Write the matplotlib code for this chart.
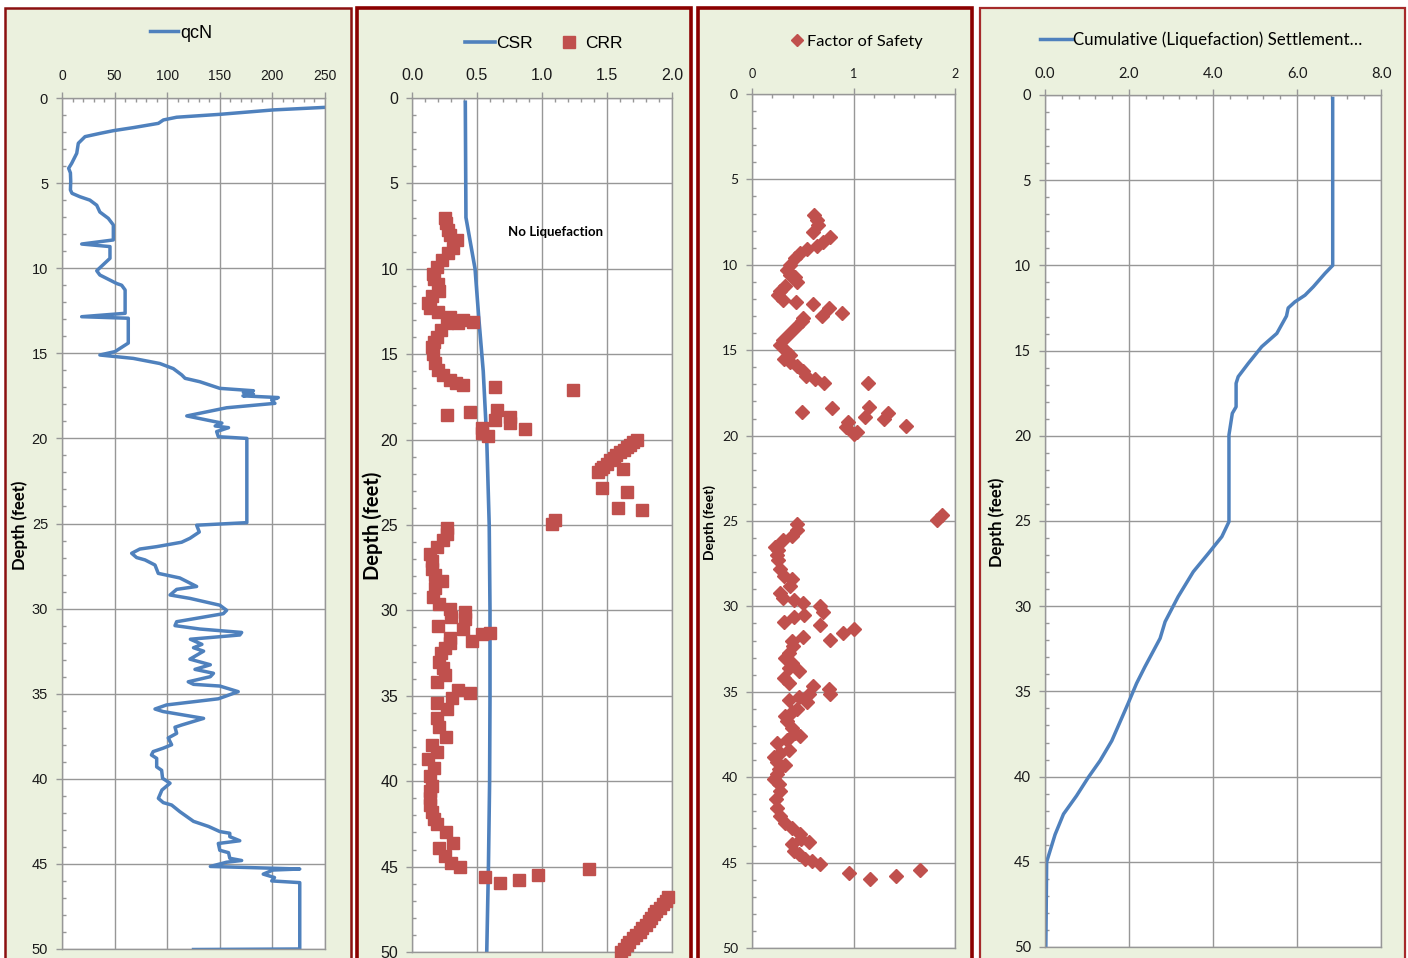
import matplotlib
matplotlib.use('Agg')
import matplotlib.pyplot as plt
from matplotlib.patches import Rectangle
from matplotlib.ticker import MultipleLocator, FormatStrFormatter
from matplotlib.lines import Line2D

# ---------------- data ----------------
qcn_depth = [0.55, 0.7, 0.96, 1.13, 1.29, 1.49, 1.74, 1.92, 2.08, 2.27,
             2.66, 3.25, 3.84, 4.13, 4.4, 4.9, 5.4, 5.6, 5.8, 6.0,
             6.3, 6.7, 7.07, 7.46, 8.34, 8.58, 8.73, 9.42, 10.15, 10.4,
             10.9, 11.0, 11.28, 12.65, 12.85, 12.94, 14.4, 14.9, 15.1, 15.3,
             15.6, 15.9, 16.27, 16.47, 16.67, 17.06, 17.2, 17.3, 17.4, 17.5,
             17.6, 17.75, 17.94, 18.2, 18.68, 19.0, 19.1, 19.27, 19.37, 19.6,
             19.9, 20.0, 24.95, 25.1, 25.5, 25.87, 26.1, 26.36, 26.5, 26.75,
             27.0, 27.14, 27.44, 27.93, 28.2, 28.5, 28.7, 28.87, 29.2, 29.4,
             29.8, 30.1, 30.3, 30.77, 31.0, 31.2, 31.4, 31.55, 31.8, 32.1,
             32.3, 32.5, 32.97, 33.3, 33.57, 33.8, 34.0, 34.3, 34.45, 34.55,
             34.88, 35.3, 35.66, 35.9, 36.05, 36.45, 36.84, 36.97, 37.33, 37.6,
             38.0, 38.2, 38.4, 38.6, 38.8, 39.3, 39.5, 39.97, 40.26, 40.66,
             41.15, 41.4, 41.54, 41.93, 42.5, 42.8, 43.1, 43.2, 43.4, 43.64,
             43.8, 44.2, 44.34, 44.67, 44.8, 44.9, 45.15, 45.3, 45.36, 45.6,
             45.8, 46.0, 46.1, 50.0, 50.03]
qcn_value = [250, 201, 150, 109, 96.4, 91.6, 67.8, 48.8, 36, 21.9,
             15.5, 14, 9.2, 6.3, 8, 8.3, 8, 9.5, 17, 26.5,
             33, 36, 44, 48.8, 48.8, 18.7, 45.6, 45.6, 33, 36,
             52, 56.7, 60, 60, 18.7, 63, 63, 50.4, 36, 67.8,
             93, 105.8, 113.8, 117, 131, 150, 182, 172.4, 182, 172,
             205.6, 199.3, 202.4, 156.5, 118.6, 144, 152, 145.6, 158.3, 147,
             148.6, 175.7, 175.7, 128, 130.5, 121.6, 113.7, 90, 74, 66.2,
             70.9, 78.9, 88.4, 91.5, 112, 121.6, 128, 109, 102.7, 121.6,
             150, 156.5, 153.3, 109, 107.4, 131, 170.8, 169, 122, 133,
             125, 134.6, 121.6, 141, 126.4, 144, 141, 120, 125, 150,
             167.5, 148.6, 99.4, 88.4, 96.2, 134.6, 113.7, 107.4, 109, 101,
             104.2, 96.2, 86.7, 85, 90, 90, 94.7, 95.6, 102.7, 95,
             91.6, 96.3, 104.2, 112, 125, 139.3, 150, 159.5, 159.5, 169,
             148.6, 150, 158.3, 159.5, 170.8, 156.5, 141, 226, 200.6, 191.3,
             202, 199.3, 226, 226, 125]

csr_depth = [0.25, 7.0, 10.0, 13.0, 16.0, 20.0, 25.0, 30.0, 35.0, 40.0, 45.0, 50.0]
csr_value = [0.41, 0.415, 0.485, 0.515, 0.548, 0.575, 0.594, 0.6, 0.6, 0.597, 0.588, 0.575]

crr_depth = [7.05, 7.3, 7.7, 8.0, 8.3, 8.8, 9.1, 9.5, 9.88, 10.3,
             10.6, 10.9, 11.3, 11.6, 12.0, 12.3, 12.5, 12.8, 13.0, 13.1,
             13.2, 13.2, 13.6, 14.0, 14.3, 14.6, 15.0, 15.5, 15.9, 16.2,
             16.5, 16.7, 16.8, 16.9, 17.1, 18.26, 18.36, 18.55, 18.65, 18.85,
             19.0, 19.34, 19.4, 19.63, 19.8,
             20.0, 20.15, 20.3, 20.45, 20.6, 20.75, 20.9, 21.05, 21.2, 21.4,
             21.6, 21.75, 21.9, 21.7, 22.85, 23.05, 24.0, 24.15, 24.7, 24.94,
             25.2, 25.5, 25.9, 26.3, 26.7, 27.1, 27.6, 27.9, 28.3, 28.7,
             29.2, 29.6, 29.9, 30.1, 30.4, 30.5, 30.9, 31.1, 31.35, 31.4,
             31.6, 31.8, 31.9, 32.2, 32.5, 33.0, 33.4, 33.8, 34.2, 34.66,
             34.86, 35.1, 35.4, 35.8, 36.3, 36.8, 37.4, 37.9, 38.3, 38.7,
             39.2, 39.7, 40.3, 40.6, 41.0, 41.4, 41.8, 42.2, 42.5, 43.0,
             43.6, 43.9, 44.4, 44.8, 45.0, 45.16, 45.49, 45.6, 45.78, 45.97,
             46.8, 47.0, 47.2, 47.4, 47.6, 47.8, 48.0, 48.2, 48.4, 48.6,
             48.8, 49.0, 49.2, 49.4, 49.6, 49.8, 50.0]
crr_value = [0.254, 0.26, 0.28, 0.29, 0.344, 0.318, 0.28, 0.228, 0.19, 0.164,
             0.17, 0.2, 0.21, 0.15, 0.126, 0.135, 0.2, 0.292, 0.395, 0.47,
             0.356, 0.267, 0.22, 0.19, 0.17, 0.15, 0.165, 0.18, 0.2, 0.24,
             0.29, 0.34, 0.395, 0.638, 1.24, 0.651, 0.446, 0.267, 0.754, 0.64,
             0.75, 0.536, 0.869, 0.536, 0.587,
             1.73, 1.70, 1.68, 1.65, 1.63, 1.60, 1.57, 1.55, 1.52, 1.50,
             1.47, 1.45, 1.43, 1.626, 1.459, 1.651, 1.587, 1.767, 1.1, 1.074,
             0.267, 0.267, 0.24, 0.19, 0.138, 0.15, 0.15, 0.18, 0.23, 0.18,
             0.165, 0.21, 0.292, 0.408, 0.3, 0.408, 0.2, 0.395, 0.6, 0.54,
             0.29, 0.459, 0.29, 0.25, 0.22, 0.21, 0.24, 0.254, 0.19, 0.356,
             0.446, 0.31, 0.19, 0.27, 0.19, 0.21, 0.26, 0.15, 0.19, 0.126,
             0.17, 0.138, 0.15, 0.14, 0.138, 0.14, 0.15, 0.17, 0.19, 0.26,
             0.318, 0.21, 0.25, 0.3, 0.37, 1.364, 0.97, 0.56, 0.826, 0.68,
             1.97, 1.95, 1.93, 1.91, 1.88, 1.86, 1.84, 1.82, 1.80, 1.77,
             1.75, 1.72, 1.70, 1.67, 1.65, 1.63, 1.61]

fs_depth = [7.08, 7.38, 7.67, 8.06, 8.39, 8.64, 8.9, 9.1, 9.3, 9.6,
            10.0, 10.3, 10.6, 10.7, 11.0, 11.27, 11.56, 11.76, 12.05, 12.2,
            12.3, 12.5, 12.8, 13.0, 13.1, 13.3, 13.6, 14.0, 14.4, 14.7,
            15.1, 15.3, 15.5, 15.7, 15.9, 16.2, 16.5, 16.7, 16.9, 16.94,
            18.3, 18.4, 18.6, 18.7, 18.9, 19.0, 19.2, 19.44, 19.5, 19.8,
            19.9, 24.65, 24.95, 25.2, 25.5, 25.9, 26.1, 26.5, 26.7, 27.0,
            27.3, 27.8, 28.2, 28.4, 28.8, 29.2, 29.5, 29.6, 29.8, 30.0,
            30.3, 30.5, 30.6, 30.9, 31.1, 31.3, 31.55, 31.8, 31.97, 32.0,
            32.3, 32.7, 33.0, 33.3, 33.6, 33.8, 34.2, 34.5, 34.66, 34.86,
            35.1, 35.1, 35.3, 35.5, 35.6, 36.0, 36.2, 36.4, 36.7, 37.1,
            37.4, 37.6, 37.8, 38.0, 38.4, 38.6, 38.8, 39.1, 39.3, 39.5,
            39.8, 40.1, 40.4, 40.8, 41.3, 41.8, 42.3, 42.7, 43.0, 43.3,
            43.6, 43.8, 43.9, 44.3, 44.5, 44.8, 44.9, 45.1, 45.45, 45.6,
            45.8, 45.97]
fs_value = [0.611, 0.637, 0.65, 0.604, 0.768, 0.702, 0.64, 0.539, 0.473, 0.424,
            0.374, 0.342, 0.374, 0.424, 0.44, 0.325, 0.276, 0.26, 0.31, 0.43,
            0.598, 0.762, 0.884, 0.69, 0.5, 0.49, 0.44, 0.37, 0.31, 0.28,
            0.34, 0.37, 0.32, 0.37, 0.44, 0.5, 0.53, 0.62, 0.71, 1.146,
            1.15, 0.785, 0.49, 1.343, 1.11, 1.3, 0.95, 1.52, 0.93, 1.03,
            1.0, 1.87, 1.82, 0.44, 0.44, 0.39, 0.31, 0.227, 0.26, 0.25,
            0.26, 0.28, 0.32, 0.39, 0.37, 0.28, 0.31, 0.41, 0.5, 0.67,
            0.7, 0.51, 0.41, 0.32, 0.67, 1.0, 0.9, 0.5, 0.77, 0.39,
            0.4, 0.36, 0.33, 0.39, 0.36, 0.46, 0.32, 0.36, 0.6, 0.76,
            0.77, 0.56, 0.46, 0.36, 0.54, 0.44, 0.39, 0.33, 0.34, 0.39,
            0.42, 0.47, 0.34, 0.25, 0.36, 0.28, 0.22, 0.25, 0.33, 0.27,
            0.25, 0.22, 0.27, 0.28, 0.24, 0.25, 0.28, 0.33, 0.39, 0.47,
            0.48, 0.56, 0.39, 0.41, 0.46, 0.52, 0.59, 0.67, 1.655, 0.96,
            1.42, 1.16]

settle_depth = [0.2, 10.0, 10.46, 11.25, 11.75, 12.14, 12.5, 12.97, 13.99, 14.77,
                15.75, 16.53, 16.92, 18.3, 18.68, 19.95, 25.04, 25.92, 26.9, 27.98,
                29.44, 30.91, 31.89, 33.55, 34.53, 35.7, 37.9, 39.07, 40.05, 41.13,
                42.2, 43.4, 45.0, 50.0]
settle_value = [6.85, 6.85, 6.67, 6.39, 6.19, 5.95, 5.79, 5.75, 5.52, 5.16,
                4.84, 4.6, 4.55, 4.55, 4.46, 4.38, 4.38, 4.21, 3.89, 3.53,
                3.17, 2.86, 2.74, 2.38, 2.18, 1.98, 1.59, 1.31, 1.03, 0.75,
                0.44, 0.24, 0.04, 0.02]

# ---------------- figure ----------------
W, H = 1408, 958
fig = plt.figure(figsize=(W / 100, H / 100), dpi=100)

BLUE = '#4F81BD'
RED = '#C0504D'
BG = '#EBF1DE'
GRID = '#979797'
ARIAL = 'Liberation Sans'
CAL = 'Lato'


def fx(px):
    return px / W


def fy(py):
    return 1 - py / H


for x0, x1, ec, lw in [(5, 351, '#8B1010', 1.8), (357, 691, '#8B0000', 2.6),
                       (698, 972, '#8B0000', 2.6), (980, 1405, '#A52A2A', 1.6)]:
    fig.patches.append(Rectangle((fx(x0), fy(965)), fx(x1 - x0), (965 - 8) / H,
                                 transform=fig.transFigure, facecolor=BG,
                                 edgecolor=ec, linewidth=lw, zorder=-10))


def make_ax(l, r, t, b):
    ax = fig.add_axes([fx(l), fy(b), fx(r - l), (b - t) / H])
    ax.set_zorder(5)
    return ax


def style(ax, xmax, xmajor, xminor, fmt, font, xsize, ysize, xpad, ypad):
    ax.set_xlim(0, xmax)
    ax.set_ylim(50, 0)
    ax.set_facecolor('white')
    ax.xaxis.tick_top()
    ax.xaxis.set_major_locator(MultipleLocator(xmajor))
    ax.xaxis.set_minor_locator(MultipleLocator(xminor))
    ax.yaxis.set_major_locator(MultipleLocator(5))
    ax.yaxis.set_minor_locator(MultipleLocator(1))
    ax.xaxis.set_major_formatter(FormatStrFormatter(fmt))
    ax.grid(True, which='major', color=GRID, lw=1)
    ax.set_axisbelow(True)
    for s in ax.spines.values():
        s.set_color(GRID)
        s.set_linewidth(1)
    ax.tick_params(which='major', direction='out', length=4, color=GRID, width=1)
    ax.tick_params(which='minor', direction='in', length=3, color=GRID, width=1)
    ax.tick_params(axis='x', which='both', top=True, bottom=False,
                   labeltop=True, labelbottom=False, labelsize=xsize, pad=xpad)
    ax.tick_params(axis='y', which='both', left=True, right=False,
                   labelsize=ysize, pad=ypad)
    for lab in ax.get_xticklabels() + ax.get_yticklabels():
        lab.set_fontfamily(font)
        lab.set_color('#1a1a1a')


# Panel 1: qcN
ax1 = make_ax(62, 325, 98, 949)
style(ax1, 250, 50, 10, '%d', ARIAL, 10, 10.5, 7, 6)
ax1.plot(qcn_value, qcn_depth, color=BLUE, lw=2.5, clip_on=True)
fig.legend(handles=[Line2D([], [], color=BLUE, lw=2.5)], labels=['qcN'],
           loc='center', bbox_to_anchor=(fx(181), fy(33)), frameon=False,
           prop={'family': ARIAL, 'size': 13}, handlelength=1.6, handletextpad=0.1)
fig.text(fx(20), fy(525), 'Depth (feet)', rotation=90, ha='center', va='center',
         fontsize=12, fontweight='bold', family=CAL)

# Panel 2: CSR / CRR
ax2 = make_ax(412, 672, 98, 952)
style(ax2, 2.0, 0.5, 0.1, '%.1f', ARIAL, 11.5, 11.5, 7, 6)
ax2.plot(csr_value, csr_depth, color=BLUE, lw=2.6, zorder=2)
ax2.plot(crr_value, crr_depth, ls='none', marker='s', ms=8.5, color=RED, mec=RED,
         zorder=3, clip_on=False)
ax2.text(1.1, 7.85, 'No Liquefaction', ha='center', va='center', fontsize=9.5,
         fontweight='bold', family=CAL)
fig.legend(handles=[Line2D([], [], color=BLUE, lw=2.6),
                    Line2D([], [], ls='none', marker='s', ms=8, color=RED)],
           labels=['CSR', 'CRR'], loc='center', bbox_to_anchor=(fx(544), fy(43)),
           frameon=False, ncol=2, prop={'family': ARIAL, 'size': 12.5},
           handlelength=1.7, handletextpad=0.1, columnspacing=1.2)
fig.text(fx(373), fy(526), 'Depth (feet)', rotation=90, ha='center', va='center',
         fontsize=14.5, fontweight='bold', family=CAL, zorder=10)

# Panel 3: Factor of Safety
ax3 = make_ax(752, 955, 94, 948)
style(ax3, 2, 1, 0.2, '%d', CAL, 9, 10, 6, 6)
ax3.plot(fs_value, fs_depth, ls='none', marker='D', ms=7.3, color=RED, mec=RED)
fig.legend(handles=[Line2D([], [], ls='none', marker='D', ms=6.5, color=RED)],
           labels=['Factor of Safety'], loc='center', bbox_to_anchor=(fx(857), fy(42)),
           frameon=False, prop={'family': CAL, 'size': 11.8},
           handlelength=0.8, handletextpad=0.2)
fig.text(fx(710), fy(522), 'Depth (feet)', rotation=90, ha='center', va='center',
         fontsize=10, fontweight='bold', family=CAL)

# Panel 4: settlement
ax4 = make_ax(1045, 1381, 95, 947)
style(ax4, 8.0, 2.0, 0.4, '%.1f', CAL, 10.5, 10.5, 6, 6)
ax4.plot(settle_value, settle_depth, color=BLUE, lw=2.5)
fig.legend(handles=[Line2D([], [], color=BLUE, lw=2.5)],
           labels=['Cumulative (Liquefaction) Settlement\u2026'], loc='center',
           bbox_to_anchor=(fx(1201), fy(40)), frameon=False,
           prop={'family': CAL, 'size': 12.2}, handlelength=1.9, handletextpad=0.05)
fig.text(fx(997), fy(522), 'Depth (feet)', rotation=90, ha='center', va='center',
         fontsize=12, fontweight='bold', family=CAL)

fig.savefig('out.png', dpi=100)
